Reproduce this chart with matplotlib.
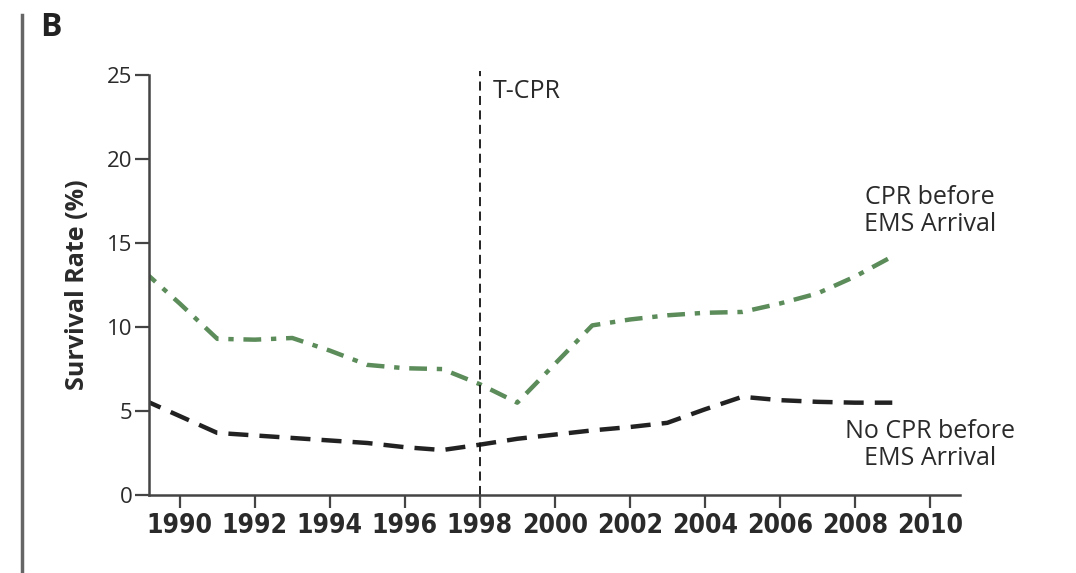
import matplotlib.pyplot as plt
from matplotlib.lines import Line2D

plt.rcParams['font.family'] = ['Open Sans', 'DejaVu Sans']

# data
years = list(range(1989, 2010))
cpr_before = [13.4, 11.4, 9.3, 9.25, 9.35, 8.6, 7.75, 7.55, 7.5, 6.6, 5.5,
              7.8, 10.1, 10.45, 10.7, 10.85, 10.9, 11.4, 12.0, 13.0, 14.2]
no_cpr_before = [5.7, 4.7, 3.7, 3.55, 3.4, 3.25, 3.1, 2.85, 2.68, 3.0, 3.35,
                 3.6, 3.85, 4.05, 4.3, 5.1, 5.85, 5.65, 5.55, 5.5, 5.5]
xticks = list(range(1990, 2011, 2))
yticks = [0, 5, 10, 15, 20, 25]
tcpr_year = 1998

fig = plt.figure(figsize=(10.76, 5.73), dpi=100)
ax = fig.add_axes([0.1385, 0.136, 0.7535, 0.733])

ax.plot(years, cpr_before, color='#5b8c5a', lw=3.2, dashes=(4, 2.2, 1.2, 2.2))
ax.plot(years, no_cpr_before, color='#222222', lw=3.2, dashes=(4.5, 2.5))
ax.axvline(tcpr_year, ymin=0, ymax=1.01, color='#111111', lw=1.3,
           dashes=(5, 3), clip_on=False)

ax.set_xlim(1989.18, 2010.8)
ax.set_ylim(0, 25)
ax.set_xticks(xticks)
ax.set_yticks(yticks)
ax.set_xticklabels([str(x) for x in xticks], fontsize=19, fontweight='bold',
                   color='#2a2a2a', family='DejaVu Sans', fontstretch='condensed')
ax.set_yticklabels([str(y) for y in yticks], fontsize=16, color='#2a2a2a')
ax.tick_params(axis='x', length=9, width=1.6, color='#444444', pad=4)
ax.tick_params(axis='y', length=10, width=1.6, color='#444444', pad=2)

for s in ['top', 'right']:
    ax.spines[s].set_visible(False)
for s in ['left', 'bottom']:
    ax.spines[s].set_color('#444444')
    ax.spines[s].set_linewidth(1.8)

ax.set_ylabel('Survival Rate (%)', fontsize=18, fontweight='bold', color='#2a2a2a', labelpad=12)

ax.text(1998.35, 24.0, 'T-CPR', fontsize=18, color='#2a2a2a', va='center', ha='left')
ax.text(2010.0, 16.9, 'CPR before\nEMS Arrival', fontsize=18, color='#2a2a2a',
        ha='center', va='center', linespacing=1.1)
ax.text(2010.0, 3.0, 'No CPR before\nEMS Arrival', fontsize=18, color='#2a2a2a',
        ha='center', va='center', linespacing=1.1)

fig.text(40 / 1076, 1 - 28 / 573, 'B', fontsize=23, fontweight='bold', color='#222222',
         ha='left', va='center')
fig.add_artist(Line2D([22 / 1076, 22 / 1076], [0, 1 - 15 / 573], color='#666666', lw=2.5))

fig.savefig('out.png', dpi=100)
